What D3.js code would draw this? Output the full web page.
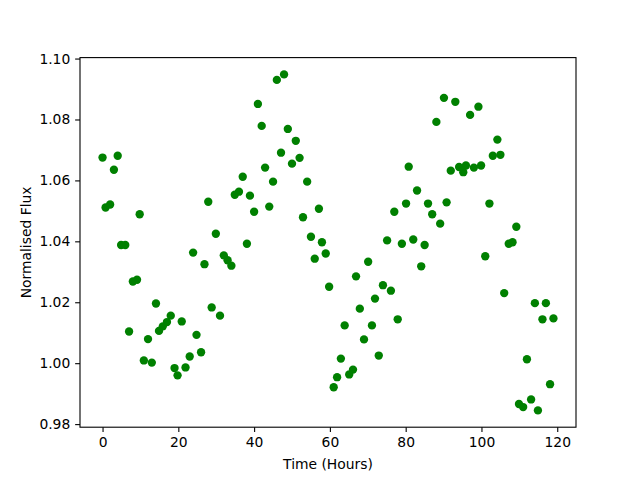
<!DOCTYPE html>
<html>
<head>
<meta charset="utf-8">
<script src="https://cdn.jsdelivr.net/npm/d3@7"></script>
<style>
  html, body { margin: 0; padding: 0; background: #fff; }
  svg text { font-family: "DejaVu Sans", sans-serif; }
</style>
</head>
<body>
<svg id="chart" width="640" height="480"></svg>
<script>
// data
const hours = [
  0, 0.8, 2.0, 3.0, 4.0, 4.9, 6.0, 7.0, 8.0, 9.1, 9.8, 10.9, 12.0, 13.0, 14.1, 14.9, 15.9, 17.0, 18.0, 19.0,
  19.8, 20.9, 21.9, 23.0, 23.9, 24.8, 26.0, 26.9, 27.9, 28.8, 29.9, 31.0, 32.0, 33.0, 34.0, 34.9, 36.0, 37.0, 38.1, 38.9,
  40.0, 41.0, 42.0, 42.9, 44.0, 45.0, 46.0, 47.1, 47.9, 48.9, 50.0, 51.0, 52.0, 52.9, 54.0, 55.0, 56.0, 57.1, 57.9, 58.9,
  59.8, 61.0, 61.9, 62.9, 63.9, 65.1, 66.1, 66.9, 67.9, 69.0, 70.1, 71.1, 71.9, 72.9, 74.0, 75.1, 76.1, 77.0, 77.9, 79.0,
  80.1, 80.8, 82.0, 83.0, 84.1, 85.0, 85.9, 87.0, 88.1, 89.1, 90.1, 90.8, 91.9, 93.1, 94.1, 95.2, 95.9, 97.0, 98.0, 99.2,
  99.9, 101.0, 102.1, 103.0, 104.2, 105.0, 106.0, 107.2, 108.2, 109.2, 109.9, 111.0, 112.0, 113.1, 114.1, 114.9, 116.1, 117.0, 118.1, 119.0
];
const flux = [
  1.0675, 1.0511, 1.0521, 1.0635, 1.0681, 1.0388, 1.0388, 1.0104, 1.0268, 1.0274, 1.0489, 1.0009, 1.0079, 1.0002, 1.0196, 1.0106, 1.0121, 1.0135, 1.0156, 0.9984,
  0.9960, 1.0137, 0.9986, 1.0022, 1.0363, 1.0093, 1.0036, 1.0325, 1.0530, 1.0183, 1.0425, 1.0156, 1.0354, 1.0338, 1.0320, 1.0553, 1.0563, 1.0612, 1.0392, 1.0550,
  1.0497, 1.0851, 1.0779, 1.0642, 1.0514, 1.0596, 1.0930, 1.0691, 1.0948, 1.0769, 1.0655, 1.0730, 1.0674, 1.0479, 1.0596, 1.0415, 1.0343, 1.0507, 1.0397, 1.0360,
  1.0251, 0.9921, 0.9954, 1.0015, 1.0124, 0.9963, 0.9979, 1.0285, 1.0179, 1.0078, 1.0333, 1.0124, 1.0212, 1.0025, 1.0256, 1.0403, 1.0238, 1.0497, 1.0144, 1.0392,
  1.0524, 1.0645, 1.0406, 1.0567, 1.0318, 1.0388, 1.0524, 1.0489, 1.0792, 1.0458, 1.0871, 1.0528, 1.0632, 1.0858, 1.0644, 1.0627, 1.0649, 1.0815, 1.0642, 1.0842,
  1.0649, 1.0351, 1.0524, 1.0681, 1.0734, 1.0684, 1.0230, 1.0392, 1.0397, 1.0448, 0.9866, 0.9856, 1.0013, 0.9881, 1.0197, 0.9845, 1.0144, 1.0197, 0.9931, 1.0147
];
const xTicks = [0, 20, 40, 60, 80, 100, 120];
const yTicks = [0.98, 1.00, 1.02, 1.04, 1.06, 1.08, 1.10];

// matplotlib-ish layout
const W = 640, H = 480;
const m = {left: 80, right: 576, top: 57.6, bottom: 427.2};
const tickLen = 4.86, fontPx = 13.89;

// 5% padding like matplotlib autoscale
function pad([a, b]) { const r = b - a; return [a - 0.05 * r, b + 0.05 * r]; }

const x = d3.scaleLinear().domain(pad(d3.extent(hours))).range([m.left, m.right]);
const y = d3.scaleLinear().domain(pad(d3.extent(flux))).range([m.bottom, m.top]);

const svg = d3.select("#chart");
const pts = hours.map((h, i) => ({h, f: flux[i]}));

// points
svg.append("g")
  .selectAll("circle")
  .data(pts)
  .join("circle")
  .attr("cx", d => x(d.h))
  .attr("cy", d => y(d.f))
  .attr("r", 4.17)
  .attr("fill", "#008000");

// axes
const gx = svg.append("g")
  .attr("transform", `translate(0,${m.bottom})`)
  .call(d3.axisBottom(x).tickValues(xTicks).tickFormat(d3.format("d"))
    .tickSize(tickLen).tickPadding(tickLen).tickSizeOuter(0));
const gy = svg.append("g")
  .attr("transform", `translate(${m.left},0)`)
  .call(d3.axisLeft(y).tickValues(yTicks).tickFormat(d3.format(".2f"))
    .tickSize(tickLen).tickPadding(tickLen).tickSizeOuter(0));

[gx, gy].forEach(g => {
  g.select(".domain").remove();
  g.selectAll("line").attr("stroke", "#000").attr("stroke-width", 1.1);
  g.selectAll("text")
    .attr("fill", "#000")
    .style("font-family", "'DejaVu Sans', sans-serif")
    .style("font-size", fontPx + "px");
});

// spines
svg.append("rect")
  .attr("x", m.left).attr("y", m.top)
  .attr("width", m.right - m.left).attr("height", m.bottom - m.top)
  .attr("fill", "none").attr("stroke", "#000").attr("stroke-width", 1.1);

// axis labels
svg.append("text")
  .attr("x", (m.left + m.right) / 2)
  .attr("y", 468.5)
  .attr("text-anchor", "middle")
  .style("font-size", fontPx + "px")
  .text("Time (Hours)");

svg.append("text")
  .attr("transform", `translate(31,${(m.top + m.bottom) / 2}) rotate(-90)`)
  .attr("text-anchor", "middle")
  .style("font-size", fontPx + "px")
  .text("Normalised Flux");
</script>
</body>
</html>
